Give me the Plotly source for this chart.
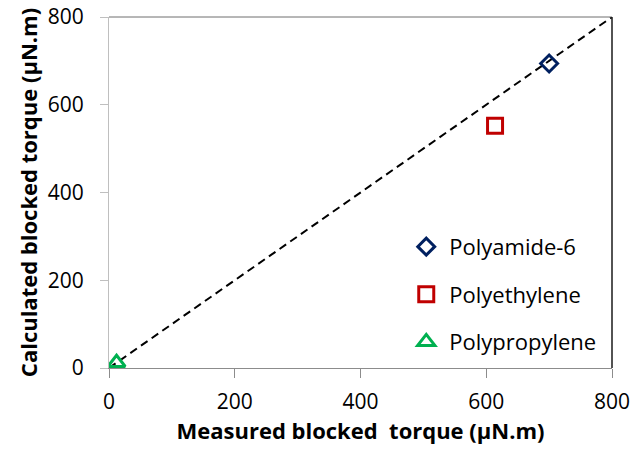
import plotly.graph_objects as go

# Blocked torque: measured vs calculated (µN.m)
materials = ["Polyamide-6", "Polyethylene", "Polypropylene"]
measured = [700, 614, 12]
calculated = [694, 552, 12]
symbols = ["diamond-open", "square-open", "triangle-up-open"]
colors = ["#002060", "#C00000", "#00B050"]
sizes = [13, 15, 15]

parity_x = [0, 800]
parity_y = [0, 800]

axis_ticks = [0, 200, 400, 600, 800]

font_family = "Open Sans, Noto Sans, sans-serif"

fig = go.Figure()

# 1:1 reference line
fig.add_trace(go.Scatter(
    x=parity_x, y=parity_y, mode="lines",
    line=dict(color="black", width=2, dash="8px,5px"),
    showlegend=False, hoverinfo="skip",
))

for name, mx, cy, sym, col, sz in zip(materials, measured, calculated, symbols, colors, sizes):
    fig.add_trace(go.Scatter(
        x=[mx], y=[cy], mode="markers", name=name, legendgroup=name,
        marker=dict(symbol=sym, size=sz, color=col, line=dict(color=col, width=3)),
    ))

fig.update_layout(
    width=633, height=454,
    margin=dict(l=109, r=21, t=17, b=86, autoexpand=False),
    paper_bgcolor="white", plot_bgcolor="white",
    font=dict(family=font_family, size=21, color="black"),
    legend=dict(
        x=0.585, y=0.405, xanchor="left", yanchor="top",
        bgcolor="rgba(0,0,0,0)", tracegroupgap=16,
        font=dict(size=22), itemwidth=36,
    ),
    xaxis=dict(
        range=[0, 800], tickvals=axis_ticks, showgrid=False, zeroline=False,
        showline=True, linecolor="#8C8C8C", linewidth=1,
        ticks="outside", ticklen=9, tickcolor="#8C8C8C", automargin=False,
        ticklabelstandoff=6,
        title=dict(text="<b>Measured blocked  torque (µN.m)</b>", font=dict(size=22), standoff=4),
    ),
    yaxis=dict(
        range=[0, 800], tickvals=axis_ticks, showgrid=False, zeroline=False,
        showline=True, linecolor="#BFBFBF", linewidth=1,
        ticks="outside", ticklen=8, tickcolor="#BFBFBF", automargin=False,
        ticklabelstandoff=12,
        title=dict(text="<b>Calculated blocked torque (µN.m)</b>", font=dict(size=22), standoff=4),
    ),
    shapes=[
        dict(type="line", xref="paper", yref="paper", x0=0, x1=1, y0=1, y1=1,
             line=dict(color="#6E6E6E", width=1)),
        dict(type="line", xref="paper", yref="paper", x0=1, x1=1, y0=0, y1=1,
             line=dict(color="#1A1A1A", width=1.5)),
    ],
)

fig.write_html("out.html")
